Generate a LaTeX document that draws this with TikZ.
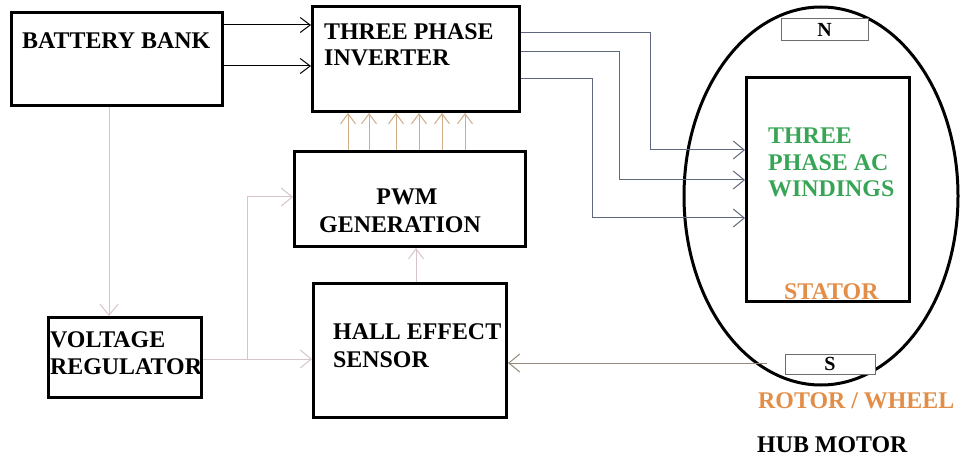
\documentclass[tikz,border=0pt]{standalone}
\usepackage{fontspec}
\setmainfont{Liberation Serif}
\usetikzlibrary{arrows.meta}
\definecolor{pinkc}{RGB}{214,196,202}
\definecolor{bluec}{RGB}{95,105,125}
\definecolor{tanc}{RGB}{205,172,135}
\definecolor{brownc}{RGB}{150,140,122}
\definecolor{greenc}{RGB}{55,165,85}
\definecolor{orangec}{RGB}{226,142,72}
\definecolor{thinbox}{RGB}{110,110,110}
\begin{document}
\begin{tikzpicture}[x=1pt,y=-1pt,
  blk/.style={draw=black,line width=3pt,fill=white,inner sep=0pt},
  mag/.style={draw=thinbox,line width=1pt,fill=white,inner sep=0pt,
    font=\rmfamily\fontsize{20}{22}\selectfont\bfseries},
  txt/.style={anchor=base west,inner sep=0pt,font=\rmfamily\fontsize{23.9}{26}\selectfont\bfseries},
  conn/.style={line width=1pt},
  arr/.style={conn,-{Straight Barb[length=11pt,width=18pt]}},
  sarr/.style={conn,-{Straight Barb[length=10pt,width=15pt]}}]
\useasboundingbox (0,0) rectangle (961,457);

% hub motor ellipse
\draw[line width=3pt] (821,196) ellipse [x radius=137, y radius=189];

% blocks
\node[blk,minimum width=211pt,minimum height=93pt] (bat) at (117,59.5) {};
\node[blk,minimum width=207pt,minimum height=105pt] (inv) at (416,59) {};
\node[blk,minimum width=231pt,minimum height=95pt] (pwm) at (410,199) {};
\node[blk,minimum width=193pt,minimum height=134pt] (hall) at (410,350.5) {};
\node[blk,minimum width=153pt,minimum height=80pt] (vr) at (125,357.5) {};
\node[blk,minimum width=163pt,minimum height=224pt] (stator) at (828,189.5) {};
\node[mag,minimum width=87pt,minimum height=22pt] (nmag) at (824.5,30) {N};
\node[mag,minimum width=90pt,minimum height=20pt] (smag) at (830,364) {S};

% texts
\node[txt] (tbat) at (22,49) {BATTERY BANK};
\node[txt] (tinv1) at (324,40) {THREE PHASE};
\node[txt] (tinv2) at (324,66) {INVERTER};
\node[txt,anchor=base] (tpwm1) at (407,205) {PWM};
\node[txt,anchor=base] (tpwm2) at (400,233) {GENERATION};
\node[txt] (thall1) at (333,339) {HALL EFFECT};
\node[txt] (thall2) at (333,367) {SENSOR};
\node[txt] (tvr1) at (50,347) {VOLTAGE};
\node[txt] (tvr2) at (50,374) {REGULATOR};
\node[txt,text=greenc] (tw1) at (768,144) {THREE};
\node[txt,text=greenc] (tw2) at (768,171) {PHASE AC};
\node[txt,text=greenc] (tw3) at (768,197) {WINDINGS};
\node[txt,text=orangec] (tstat) at (784,299) {STATOR};
\node[txt,text=orangec] (trot) at (758,408) {ROTOR / WHEEL};
\node[txt] (thub) at (757,452) {HUB MOTOR};

% battery -> inverter
\draw[sarr,black] (bat.east |- 0,25) -- (inv.west |- 0,25);
\draw[sarr,black] (bat.east |- 0,66) -- (inv.west |- 0,66);

% battery -> voltage regulator
\draw[arr,pinkc] (bat.south -| 109,0) -- (vr.north -| 109,0);

% voltage regulator -> hall, and branch to pwm
\coordinate (br) at (247,359);
\draw[arr,pinkc] (vr.east |- br) -- (hall.west |- br);
\draw[arr,pinkc] (br) |- (pwm.west |- 0,197);

% hall -> pwm
\draw[sarr,pinkc] (hall.north -| 416,0) -- (pwm.south -| 416,0);

% pwm -> inverter (six gate signals)
\foreach \gx in {348,369,396,419,442,465}
  \draw[sarr,tanc] (pwm.north -| \gx,0) -- (inv.south -| \gx,0);

% inverter -> stator windings
\draw[arr,bluec] (inv.east |- 0,33) -| (650,150) -- (stator.west |- 0,150);
\draw[arr,bluec] (inv.east |- 0,52) -| (619,180) -- (stator.west |- 0,180);
\draw[arr,bluec] (inv.east |- 0,79) -| (592,218) -- (stator.west |- 0,218);

% rotor magnet S -> hall sensor
\coordinate (sfree) at (767,363);
\draw[arr,brownc] (sfree) -- (hall.east |- sfree);
\end{tikzpicture}
\end{document}
